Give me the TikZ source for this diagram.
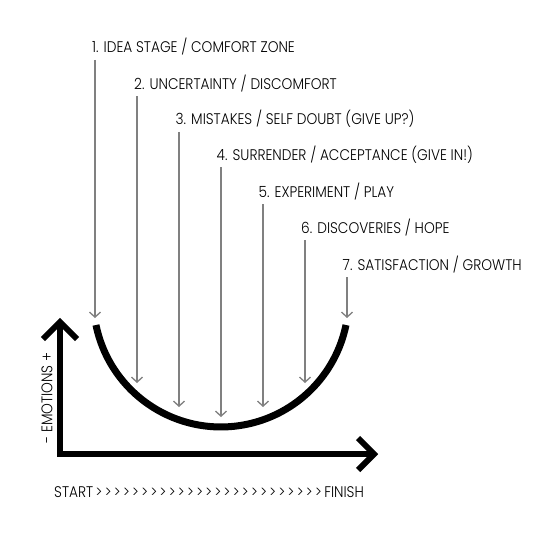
\documentclass[tikz,border=0pt]{standalone}
\usepackage{fontspec}
\setmainfont{Poppins Light}[FakeStretch=0.89]
\usetikzlibrary{arrows.meta,positioning,calc}

\begin{document}
\begin{tikzpicture}[
  x=1pt, y=-1pt,
  stage/.style={anchor=base west, inner sep=0pt, font=\fontsize{15.4}{17}\selectfont},
  drop/.style ={draw=black!50, line width=1.3pt, shorten <=7pt,
                -{Straight Barb[length=5pt, width=11pt]}},
  axis/.style ={line width=6pt},
  mood/.style ={line width=7pt}]

\fill[white] (0,0) rectangle (540,540);
\useasboundingbox (0,0) rectangle (540,540);

% stage labels
\node[stage] (s1) at (92,53)    {1. IDEA STAGE / COMFORT ZONE};
\node[stage] (s2) at (134,89.5) {2. UNCERTAINTY / DISCOMFORT};
\node[stage] (s3) at (175.5,125){3. MISTAKES / SELF DOUBT (GIVE UP?)};
\node[stage] (s4) at (216.5,160.5){4. SURRENDER / ACCEPTANCE (GIVE IN!)};
\node[stage] (s5) at (258.5,197){5. EXPERIMENT / PLAY};
\node[stage] (s6) at (301,233)  {6. DISCOVERIES / HOPE};
\node[stage] (s7) at (342.5,270){7. SATISFACTION / GROWTH};

% where each arrow lands on the curve
\coordinate (d1) at (95,318);
\coordinate (d2) at (137,383);
\coordinate (d3) at (179,407);
\coordinate (d4) at (221,417);
\coordinate (d5) at (263,407);
\coordinate (d6) at (305,383);
\coordinate (d7) at (347,318);

\draw[drop] (s1.base -| d1) -- (d1);
\draw[drop] (s2.base -| d2) -- (d2);
\draw[drop] (s3.base -| d3) -- (d3);
\draw[drop] (s4.base -| d4) -- (d4);
\draw[drop] (s5.base -| d5) -- (d5);
\draw[drop] (s6.base -| d6) -- (d6);
\draw[drop] (s7.base -| d7) -- (d7);

% the curve
\coordinate (ul) at (96,325);
\draw[mood] (ul) arc[start angle=168.4, end angle=11.6, radius=127.6];

% axes
\coordinate (o)    at (60,454);
\coordinate (ytip) at (60,322);
\coordinate (xtip) at (374,454);
\draw[axis] (ytip) -- (o) -- (xtip);
\draw[axis] ($(ytip)+(-17,17)$) -- (ytip) -- ($(ytip)+(17,17)$);
\draw[axis] ($(xtip)+(-16,-16)$) -- (xtip) -- ($(xtip)+(-16,16)$);

\node[rotate=90, inner sep=0pt, font=\fontsize{15.4}{17}\selectfont] (emo) at (47,398) {- EMOTIONS +};
\node[stage] (track) at (54,497) {\spaceskip=2.4pt START > > > > > > > > > > > > > > > > > > > > > > > > > FINISH};
\end{tikzpicture}
\end{document}
